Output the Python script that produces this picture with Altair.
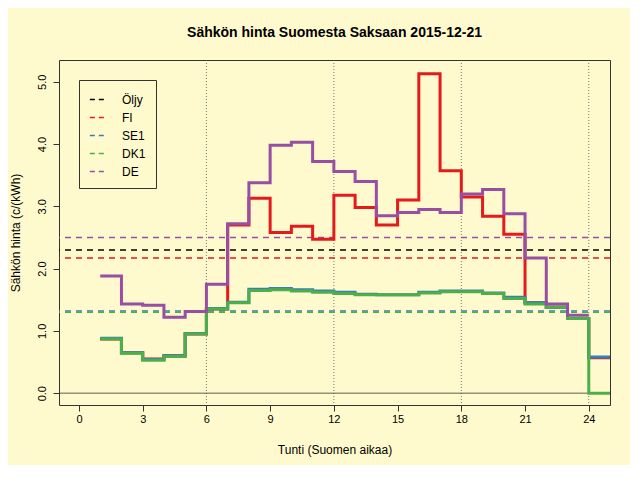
import altair as alt
import pandas as pd

hours = list(range(1, 25))
fi = [0.87,0.65,0.55,0.6,0.95,1.35,2.7,3.13,2.58,2.68,2.47,3.18,2.98,2.7,3.1,5.13,3.57,3.15,2.84,2.55,1.45,1.38,1.2,0.57]
se1 = [0.88,0.65,0.54,0.6,0.96,1.36,1.46,1.67,1.68,1.66,1.64,1.62,1.59,1.58,1.58,1.62,1.64,1.64,1.61,1.54,1.45,1.38,1.2,0.58]
dk1 = [0.87,0.64,0.53,0.59,0.95,1.35,1.45,1.65,1.66,1.64,1.62,1.6,1.58,1.58,1.58,1.61,1.63,1.63,1.6,1.52,1.43,1.38,1.2,0.0]
de = [1.88,1.43,1.41,1.22,1.31,1.75,2.72,3.38,3.98,4.03,3.72,3.56,3.4,2.85,2.9,2.95,2.9,3.2,3.27,2.88,2.17,1.43,1.25]
names = ["Öljy", "FI", "SE1", "DK1", "DE"]
means = [2.3, 2.17, 1.32, 1.3, 2.5]
colors = ["#000000", "#E41A1C", "#377EB8", "#4DAF4A", "#984EA3"]

rows = []
for name, vals in [("FI", fi), ("SE1", se1), ("DK1", dk1), ("DE", de)]:
    hs = hours[:len(vals)]
    for h, v in zip(hs, vals):
        rows.append({"s": name, "h": h, "v": v})
    rows.append({"s": name, "h": hs[-1] + 1, "v": vals[-1]})
df = pd.DataFrame(rows)
mdf = pd.DataFrame({"s": names, "m": means})

bg = "#FFFACD"
xs = alt.Scale(domain=[-0.94, 25], nice=False, zero=False)
ys = alt.Scale(domain=[-0.19, 5.35], nice=False)

grid = alt.Chart(pd.DataFrame({"g": [6, 12, 18, 24]})).mark_rule(
    color="#555", strokeDash=[1, 2], strokeWidth=0.8
).encode(x=alt.X("g:Q", scale=xs))
zero = alt.Chart(pd.DataFrame({"z": [0]})).mark_rule(color="#333", strokeWidth=0.8).encode(
    y=alt.Y("z:Q", scale=ys))

means_layer = alt.Chart(mdf).mark_rule(strokeDash=[6, 5], strokeWidth=1.6).encode(
    y=alt.Y("m:Q", scale=ys),
    color=alt.Color("s:N", scale=alt.Scale(domain=names, range=colors), legend=alt.Legend(
        title=None, orient="none", legendX=20, legendY=20, symbolType="stroke",
        symbolDash=[5, 4], symbolStrokeWidth=1.6, labelFont="Liberation Sans", labelFontSize=12,
        strokeColor="#333", padding=10, symbolSize=300, rowPadding=2, labelOffset=14)),
)

lines = []
for name, col in [("FI", colors[1]), ("SE1", colors[2]), ("DK1", colors[3]), ("DE", colors[4])]:
    lines.append(alt.Chart(df[df.s == name]).mark_line(
        interpolate="step-after", color=col, strokeWidth=3).encode(
        x=alt.X("h:Q", scale=xs, axis=alt.Axis(values=list(range(0, 25, 3)), title="Tunti (Suomen aikaa)", grid=False, titlePadding=20)),
        y=alt.Y("v:Q", scale=ys, axis=alt.Axis(values=[0, 1, 2, 3, 4, 5], title="Sähkön hinta (c/(kWh)", grid=False, labelAngle=-90, labelAlign="center", labelBaseline="bottom", labelPadding=6, titlePadding=14)),
    ))

chart = alt.layer(grid, zero, means_layer, *lines).properties(
    width=551, height=345,
    title=alt.Title("Sähkön hinta Suomesta Saksaan 2015-12-21", fontSize=14, font="Liberation Sans", fontWeight="bold", offset=20),
    background=bg, autosize=alt.AutoSizeParams(type="none"),
    padding={"left": 51, "top": 52, "right": 20, "bottom": 60},
).configure_view(fill=bg, stroke="#333").configure_axis(
    labelFont="Liberation Sans", titleFont="Liberation Sans", labelFontSize=11, titleFontSize=12,
    titleFontWeight="normal", domain=False, tickColor="#333", labelColor="#000", titleColor="#000", tickSize=6)

chart.save("out.html", embed_options={"renderer": "svg", "actions": False})
